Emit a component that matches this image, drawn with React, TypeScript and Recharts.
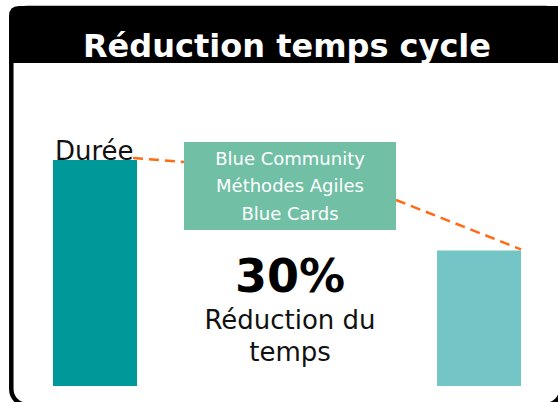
import React from 'react';
import { BarChart, Bar, XAxis, YAxis, Cell, LabelList } from 'recharts';

// two real bars (before / after), the two middle slots leave room for the callout
const categories = ['Avant', 'Leviers', 'Gain', 'Après'];
const durations = [100, null, null, 60];
const barColors = ['#009999', '#009999', '#009999', '#73C6C5'];
const leviers = ['Blue Community', 'Méthodes Agiles', 'Blue Cards'];
const gainLabel = '30%';
const gainText = ['Réduction du', 'temps'];

const data = categories.map((cat, i) => ({ cat, duree: durations[i] }));

const FONT = '"DejaVu Sans", Verdana, sans-serif';
const ORANGE = '#FF6A13';

// callout box, fixed annotation
const BOX = { x: 184, y: 142, w: 212, h: 88 };

const BarDecor = (props: any) => {
  const vb = props.viewBox || props;
  const x = vb.x ?? props.x;
  const y = vb.y ?? props.y;
  const w = vb.width ?? props.width;
  // first bar gets the "Durée" label, the last one the outgoing connector
  const isFirst = x + w / 2 < BOX.x;
  if (isFirst) {
    return (
      <g>
        <text x={x + 2} y={y} fontFamily={FONT} fontSize={26} fill="#111">Durée</text>
        <line x1={x + w - 4} y1={y - 2} x2={BOX.x} y2={BOX.y + 20}
          stroke={ORANGE} strokeWidth={2.5} strokeDasharray="10 6" />
      </g>
    );
  }
  return (
    <line x1={BOX.x + BOX.w} y1={BOX.y + 58} x2={x + w} y2={y - 1}
      stroke={ORANGE} strokeWidth={2.5} strokeDasharray="10 6" />
  );
};

export default function App() {
  return (
    <div style={{ position: 'absolute', left: 0, top: 0, width: 558, height: 402, background: '#fff', overflow: 'hidden' }}>
      <BarChart width={558} height={402} data={data}
        margin={{ top: 160, right: 15, bottom: 16, left: 31 }}>
        <XAxis dataKey="cat" type="category" hide />
        <YAxis type="number" domain={[0, 100]} hide />
        <Bar dataKey="duree" barSize={84} isAnimationActive={false}>
          {data.map((d, i) => <Cell key={d.cat} fill={barColors[i]} />)}
          <LabelList dataKey="duree" content={BarDecor} />
        </Bar>
      </BarChart>

      <svg width={558} height={402} style={{ position: 'absolute', left: 0, top: 0, pointerEvents: 'none' }}>
        {/* frame + header (frame runs past the right and bottom edges) */}
        <rect x={11.3} y={8} width={550} height={397} rx={16} fill="none" stroke="#000" strokeWidth={4.5} />
        <path d="M9 61 L9 16 Q9 6 19 6 L560 6 L560 63 L11 63 Q9 63 9 61 Z" fill="#000" />
        <text x={287} y={57} textAnchor="middle" fontFamily={FONT} fontWeight="bold" fontSize={32} fill="#fff">
          Réduction temps cycle
        </text>

        <rect x={BOX.x} y={BOX.y} width={BOX.w} height={BOX.h} fill="#71BFA5" />
        {leviers.map((t, i) => (
          <text key={t} x={290} y={164.5 + i * 27.8} textAnchor="middle" fontFamily={FONT} fontSize={18} fill="#fff">{t}</text>
        ))}

        <text x={290} y={292} textAnchor="middle" fontFamily={FONT} fontWeight="bold" fontSize={46} fill="#000">{gainLabel}</text>
        {gainText.map((t, i) => (
          <text key={t} x={290} y={329 + i * 32} textAnchor="middle" fontFamily={FONT} fontSize={26} fill="#111">{t}</text>
        ))}
      </svg>
    </div>
  );
}
